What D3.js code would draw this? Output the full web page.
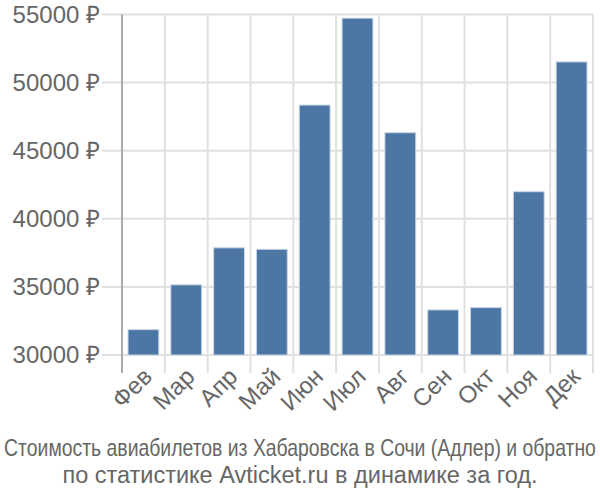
<!DOCTYPE html>
<html><head><meta charset="utf-8">
<script src="https://cdn.jsdelivr.net/npm/d3@7"></script>
<style>body{margin:0;background:#fff}svg{display:block}</style>
</head><body><svg id="c" width="600" height="500"></svg>
<script>
const months = ["Фев","Мар","Апр","Май","Июн","Июл","Авг","Сен","Окт","Ноя","Дек"];
const prices = [31860,35150,37870,37760,48350,54730,46320,33310,33480,41990,51520];
const yTicks = [30000,35000,40000,45000,50000,55000];
const titleLines = ["Стоимость авиабилетов из Хабаровска в Сочи (Адлер) и обратно","по статистике Avticket.ru в динамике за год."];

const svg = d3.select("#c");
const font = "'Liberation Sans', Arial, sans-serif";
const pLeft = 122, pRight = 593, pTop = 14.5, pBottom = 355;
const x = d3.scaleBand().domain(months).range([pLeft, pRight]).paddingInner(0.28).paddingOuter(0.14);
const y = d3.scaleLinear().domain([30000,55000]).range([pBottom, pTop]);

// horizontal grid
svg.append("g").selectAll("line").data(yTicks).join("line")
  .attr("x1", 102).attr("x2", pRight).attr("y1", d=>y(d)).attr("y2", d=>y(d))
  .attr("stroke", "#e0e0e0").attr("stroke-width", 2);
// vertical grid at band boundaries
const bounds = d3.range(1, months.length+1).map(i => pLeft + i*(pRight-pLeft)/months.length);
svg.append("g").selectAll("line").data(bounds).join("line")
  .attr("x1", d=>d).attr("x2", d=>d).attr("y1", pTop).attr("y2", 373)
  .attr("stroke", "#e0e0e0").attr("stroke-width", 2);
// y axis line
svg.append("line").attr("x1", pLeft).attr("x2", pLeft).attr("y1", pTop).attr("y2", 373)
  .attr("stroke", "#aaaaaa").attr("stroke-width", 2);

// bars
svg.append("g").selectAll("rect").data(prices).join("rect")
  .attr("x", (d,i)=>x(months[i])).attr("width", x.bandwidth())
  .attr("y", d=>y(d)).attr("height", d=>y(30000)-y(d))
  .attr("fill", "#4c77a5").attr("stroke", "#c8d6e6").attr("stroke-width", 1);

// y labels
svg.append("g").selectAll("text").data(yTicks).join("text")
  .attr("x", 100).attr("y", d=>y(d)).attr("dy", "0.35em")
  .attr("text-anchor", "end").attr("font-family", font).attr("font-size", 24)
  .attr("fill", "#666").text(d => d + " ₽");

// x labels
svg.append("g").selectAll("text").data(months).join("text")
  .attr("transform", d => `translate(${x(d)+x.bandwidth()/2+10},${378}) rotate(-45)`)
  .attr("text-anchor", "end").attr("font-family", font).attr("font-size", 24)
  .attr("fill", "#666").text(d=>d);

// title line 1: condensed to fit the width
const t1g = svg.append("g");
const t1 = t1g.append("text").attr("x", 0).attr("y", 0).attr("text-anchor", "middle")
  .attr("font-family", font).attr("font-size", 23).attr("fill", "#666").text(titleLines[0]);
const natW = t1.node().getComputedTextLength();
const targetW = 592;
const fs = 23 * Math.min(1, targetW / natW);
t1.attr("font-size", fs);
t1g.attr("transform", `translate(300,456) scale(1,${23/fs})`);

svg.append("text").attr("x", 300).attr("y", 483).attr("text-anchor", "middle")
  .attr("font-family", font).attr("font-size", 23.5).attr("fill", "#666").text(titleLines[1]);
</script></body></html>
